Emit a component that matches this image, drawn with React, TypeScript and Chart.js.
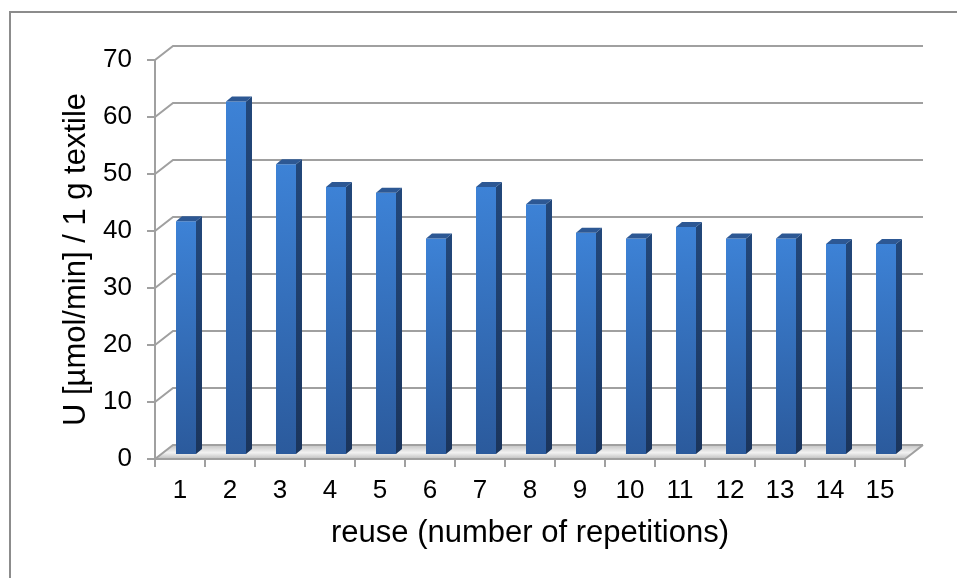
import React, { useEffect, useRef } from 'react';
import { Chart, registerables } from 'chart.js';

Chart.register(...registerables);

const categories = ['1', '2', '3', '4', '5', '6', '7', '8', '9', '10', '11', '12', '13', '14', '15'];
const values = [41, 62, 51, 47, 46, 38, 47, 44, 39, 38, 40, 38, 38, 37, 37];
const yMin = 0;
const yMax = 70;
const yStep = 10;
const xTitle = 'reuse (number of repetitions)';
const yTitle = 'U [µmol/min] / 1 g textile';

const W = 957;
const H = 578;
const FONT = "'Liberation Sans', Arial, sans-serif";
const BACK = { dx: 18, dy: -14 };
const BAR_OFF = { dx: 6, dy: -4 };
const BAR_DEPTH = { dx: 6, dy: -5 };
const GRID = '#a0a0a0';

const threeD = {
  id: 'threeD',
  beforeDraw(chart: any) {
    const ctx = chart.ctx;
    ctx.save();
    ctx.strokeStyle = '#8c8c8c';
    ctx.lineWidth = 2;
    ctx.strokeRect(10, 12, W + 20, H + 20);
    ctx.restore();
  },
  beforeDatasetsDraw(chart: any) {
    const { ctx, chartArea: ca, scales } = chart;
    const y = scales.y;
    const y0 = y.getPixelForValue(0);
    ctx.save();
    // floor
    ctx.beginPath();
    ctx.moveTo(ca.left, y0);
    ctx.lineTo(ca.right, y0);
    ctx.lineTo(ca.right + BACK.dx, y0 + BACK.dy);
    ctx.lineTo(ca.left + BACK.dx, y0 + BACK.dy);
    ctx.closePath();
    const g = ctx.createLinearGradient(0, y0 + BACK.dy, 0, y0);
    g.addColorStop(0, '#c4c4c4');
    g.addColorStop(0.55, '#f2f2f2');
    g.addColorStop(1, '#bdbdbd');
    ctx.fillStyle = g;
    ctx.fill();
    // back wall gridlines + left diagonals
    ctx.strokeStyle = GRID;
    ctx.lineWidth = 2;
    y.ticks.forEach((t: any) => {
      const py = y.getPixelForValue(t.value);
      ctx.beginPath();
      ctx.moveTo(ca.left, py);
      ctx.lineTo(ca.left + BACK.dx, py + BACK.dy);
      ctx.lineTo(ca.right + BACK.dx, py + BACK.dy);
      ctx.stroke();
    });
    // floor right edge and front edge
    ctx.beginPath();
    ctx.moveTo(ca.left, y0);
    ctx.lineTo(ca.right, y0);
    ctx.lineTo(ca.right + BACK.dx, y0 + BACK.dy);
    ctx.stroke();
    ctx.restore();
    ctx.save();
    ctx.translate(BAR_OFF.dx, BAR_OFF.dy);
  },
  afterDatasetsDraw(chart: any) {
    const ctx = chart.ctx;
    ctx.restore();
    const meta = chart.getDatasetMeta(0);
    ctx.save();
    meta.data.forEach((el: any) => {
      const p = el.getProps(['x', 'y', 'base', 'width'], true);
      const left = p.x - p.width / 2 + BAR_OFF.dx;
      const right = p.x + p.width / 2 + BAR_OFF.dx;
      const top = p.y + BAR_OFF.dy;
      const bottom = p.base + BAR_OFF.dy;
      // side face
      ctx.beginPath();
      ctx.moveTo(right, top);
      ctx.lineTo(right + BAR_DEPTH.dx, top + BAR_DEPTH.dy);
      ctx.lineTo(right + BAR_DEPTH.dx, bottom + BAR_DEPTH.dy);
      ctx.lineTo(right, bottom);
      ctx.closePath();
      const sg = ctx.createLinearGradient(0, top, 0, bottom);
      sg.addColorStop(0, '#22477a');
      sg.addColorStop(1, '#1b355c');
      ctx.fillStyle = sg;
      ctx.fill();
      // top face
      ctx.beginPath();
      ctx.moveTo(left, top);
      ctx.lineTo(left + BAR_DEPTH.dx, top + BAR_DEPTH.dy);
      ctx.lineTo(right + BAR_DEPTH.dx, top + BAR_DEPTH.dy);
      ctx.lineTo(right, top);
      ctx.closePath();
      ctx.fillStyle = '#2d5894';
      ctx.fill();
    });
    ctx.restore();
  },
};

export default function App() {
  const ref = useRef<HTMLCanvasElement | null>(null);
  useEffect(() => {
    document.body.style.margin = '0';
    const canvas = ref.current;
    if (!canvas) return;
    const chart = new Chart(canvas, {
      type: 'bar',
      data: {
        labels: categories,
        datasets: [
          {
            data: values,
            clip: false as any,
            borderWidth: 0,
            barPercentage: 0.4,
            categoryPercentage: 1,
            backgroundColor: (c: any) => {
              const ch = c.chart;
              if (c.type !== 'data' || !ch.chartArea || !ch.scales.y) return '#3471c0';
              const ys = ch.scales.y;
              const t = ys.getPixelForValue(c.raw as number);
              const b = ys.getPixelForValue(0);
              const g = ch.ctx.createLinearGradient(0, t, 0, b);
              g.addColorStop(0, '#3d82d6');
              g.addColorStop(1, '#2b5a9c');
              return g;
            },
          },
        ],
      },
      options: {
        responsive: false,
        animation: false,
        devicePixelRatio: 1,
        layout: { padding: { top: 60, right: 52, bottom: 0, left: 0 } },
        plugins: { legend: { display: false }, tooltip: { enabled: false } },
        scales: {
          x: {
            type: 'category',
            offset: true,
            afterFit: (s: any) => {
              s.height = 119;
            },
            grid: {
              offset: true,
              drawOnChartArea: false,
              drawTicks: true,
              tickLength: 8,
              color: GRID,
              lineWidth: 2,
            },
            border: { display: true, color: GRID, width: 2 },
            ticks: { color: '#000', padding: 8, font: { family: FONT, size: 26 } },
            title: {
              display: true,
              text: xTitle,
              color: '#000',
              font: { family: FONT, size: 31 },
              padding: { top: 0, bottom: 26 },
            },
          },
          y: {
            type: 'linear',
            min: yMin,
            max: yMax,
            afterFit: (s: any) => {
              s.width = 155;
            },
            grid: {
              drawOnChartArea: false,
              drawTicks: true,
              tickLength: 8,
              color: GRID,
              lineWidth: 2,
            },
            border: { display: true, color: GRID, width: 2 },
            ticks: { stepSize: yStep, color: '#000', padding: 15, font: { family: FONT, size: 26 } },
            title: {
              display: true,
              text: yTitle,
              color: '#000',
              font: { family: FONT, size: 31 },
              padding: { top: 58, bottom: 0 },
            },
          },
        },
      },
      plugins: [threeD],
    });
    return () => chart.destroy();
  }, []);
  return (
    <div style={{ width: W, height: H }}>
      <canvas ref={ref} width={W} height={H} style={{ display: 'block' }} />
    </div>
  );
}
